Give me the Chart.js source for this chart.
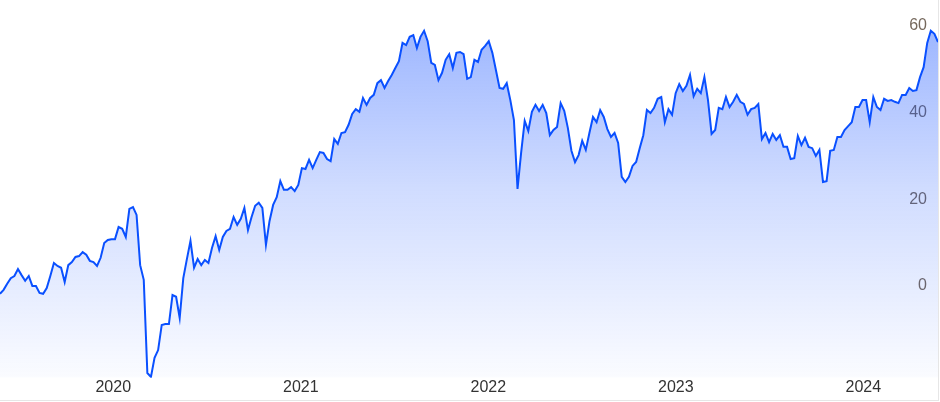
<!DOCTYPE html>
<html>
<head>
<meta charset="utf-8">
<script src="https://cdn.jsdelivr.net/npm/chart.js@4"></script>
<style>
  body { margin: 0; background: #fff; }
  #wrap { width: 938px; height: 400px; border-right: 1px solid #e6e6e6; border-bottom: 1px solid #e6e6e6; }
</style>
</head>
<body>
<div id="wrap"><canvas id="chart" width="938" height="400"></canvas></div>
<script>
// weekly closes, starting late May 2019
const startYear = 2019.396;
const weekStep = 7 / 365.25;

const values2019 = [-1.8, -0.9, 0.5, 1.8, 2.3, 3.9, 2.5, 1.2, 2.3, 0, 0, -1.6, -1.8, -0.5, 2.3, 5.3,
    4.6, 4.2, 0.9, 4.8, 5.5, 6.7, 6.9, 7.8, 7.2, 5.8, 5.5, 4.6, 6.5, 9.9, 10.6, 10.8];
const values2020 = [10.8, 13.6, 13.2, 11.3, 17.8, 18.2, 16.4, 4.8, 1.4, -20.1, -21.0, -16.6, -14.8,
    -9.0, -8.8, -8.8, -2.1, -2.5, -7.4, 1.8, 6.2, 10.4, 4.2, 6.2, 4.8, 6.0, 5.3, 8.8, 11.5, 8.3,
    11.3, 12.7, 13.2, 15.9, 14.1, 15.5, 18.0, 12.9, 15.9, 18.5, 19.2, 18.0, 9.5, 15.0, 18.7, 20.5,
    24.2, 22.2, 22.2, 22.8, 21.9, 23.3];
const values2021 = [27.2, 27.0, 29.1, 27.2, 29.1, 30.9, 30.7, 29.3, 28.8, 33.9, 32.8, 35.3, 35.5,
    37.2, 39.7, 40.8, 40.2, 43.4, 41.8, 43.4, 44.1, 46.8, 47.5, 45.7, 47.3, 48.7, 50.3, 51.9, 56.1,
    55.6, 57.5, 57.9, 54.9, 57.5, 58.9, 56.5, 51.5, 51.0, 47.5, 49.2, 52.2, 53.5, 50.3, 53.8, 54.0,
    53.5, 47.8, 48.2, 52.2, 51.7, 54.5, 55.4];
const values2022 = [56.5, 53.8, 49.8, 45.7, 45.5, 46.8, 42.9, 38.3, 22.4, 30.7, 38.1, 35.8, 40.2,
    41.8, 40.4, 41.8, 39.9, 34.8, 36.0, 36.7, 42.2, 40.4, 36.5, 31.2, 28.6, 30.2, 33.5, 31.4, 35.3,
    39.0, 37.8, 40.6, 39.0, 36.2, 34.4, 35.3, 33.0, 25.2, 24.0, 25.2, 27.7, 28.6, 31.8, 34.8, 40.6,
    39.9, 41.1, 43.2, 43.6, 37.8, 40.8, 39.5];
const values2023 = [44.5, 46.6, 45.0, 46.2, 48.7, 43.8, 45.5, 44.5, 48.2, 42.9, 35.1, 36.0, 41.1,
    40.8, 43.6, 41.3, 42.5, 44.1, 42.5, 42.0, 39.5, 40.8, 41.1, 42.0, 33.9, 35.3, 33.2, 35.1, 33.7,
    34.8, 32.1, 32.1, 29.3, 29.5, 34.6, 32.5, 34.2, 32.1, 31.8, 30.0, 31.4, 24.0, 24.2, 31.2, 31.4,
    34.4, 34.4, 36.0, 36.9, 37.8, 41.3, 41.3];
const values2024 = [42.9, 42.9, 37.8, 43.6, 41.3, 40.6, 43.2, 42.7, 42.9, 42.5, 42.2, 44.1, 44.1,
    45.7, 45.0, 45.2, 48.2, 50.5, 56.1, 58.9, 58.2, 56.3];

const yearTicks = [2020, 2021, 2022, 2023, 2024];
const valueTicks = [0, 20, 40, 60];

const allValues = [].concat(values2019, values2020, values2021, values2022, values2023, values2024);
const points = allValues.map((v, i) => ({ x: startYear + i * weekStep, y: v }));

function fillGradient(context) {
    const chart = context.chart;
    const area = chart.chartArea;
    if (!area) return null;
    const g = chart.ctx.createLinearGradient(0, area.top, 0, area.bottom);
    g.addColorStop(0, 'rgba(20, 80, 255, 0.45)');
    g.addColorStop(0.5, 'rgba(20, 80, 255, 0.2)');
    g.addColorStop(1, 'rgba(20, 80, 255, 0.02)');
    return g;
}

function zeroPadding(scale) {
    scale.paddingTop = 0;
    scale.paddingBottom = 0;
    scale.paddingLeft = 0;
    scale.paddingRight = 0;
}

new Chart(document.getElementById('chart'), {
    type: 'line',
    data: {
        datasets: [{
            data: points,
            borderColor: '#0a50ff',
            borderWidth: 2,
            backgroundColor: fillGradient,
            fill: 'start',
            pointRadius: 0,
            tension: 0
        }]
    },
    options: {
        responsive: false,
        animation: false,
        devicePixelRatio: 1,
        layout: { padding: { top: 0, bottom: 3, left: 0, right: 0 } },
        plugins: { legend: { display: false }, tooltip: { enabled: false } },
        scales: {
            x: {
                type: 'linear',
                min: startYear,
                max: points[points.length - 1].x,
                grid: { display: false, drawTicks: false },
                border: { display: false },
                afterBuildTicks: (scale) => { scale.ticks = yearTicks.map(v => ({ value: v })); },
                afterFit: zeroPadding,
                ticks: {
                    padding: 0,
                    color: '#333333',
                    font: { family: "'Liberation Sans', Arial, sans-serif", size: 16 },
                    callback: (v) => String(v)
                }
            },
            y: {
                position: 'right',
                min: -21.2,
                max: 66,
                grid: { display: false, drawTicks: false },
                border: { display: false },
                afterBuildTicks: (scale) => { scale.ticks = valueTicks.map(v => ({ value: v })); },
                afterFit: (scale) => { zeroPadding(scale); scale.width = 0; },
                ticks: {
                    mirror: true,
                    padding: -11,
                    color: '#75685c',
                    font: { family: "'Liberation Sans', Arial, sans-serif", size: 16 }
                }
            }
        }
    }
});
</script>
</body>
</html>
